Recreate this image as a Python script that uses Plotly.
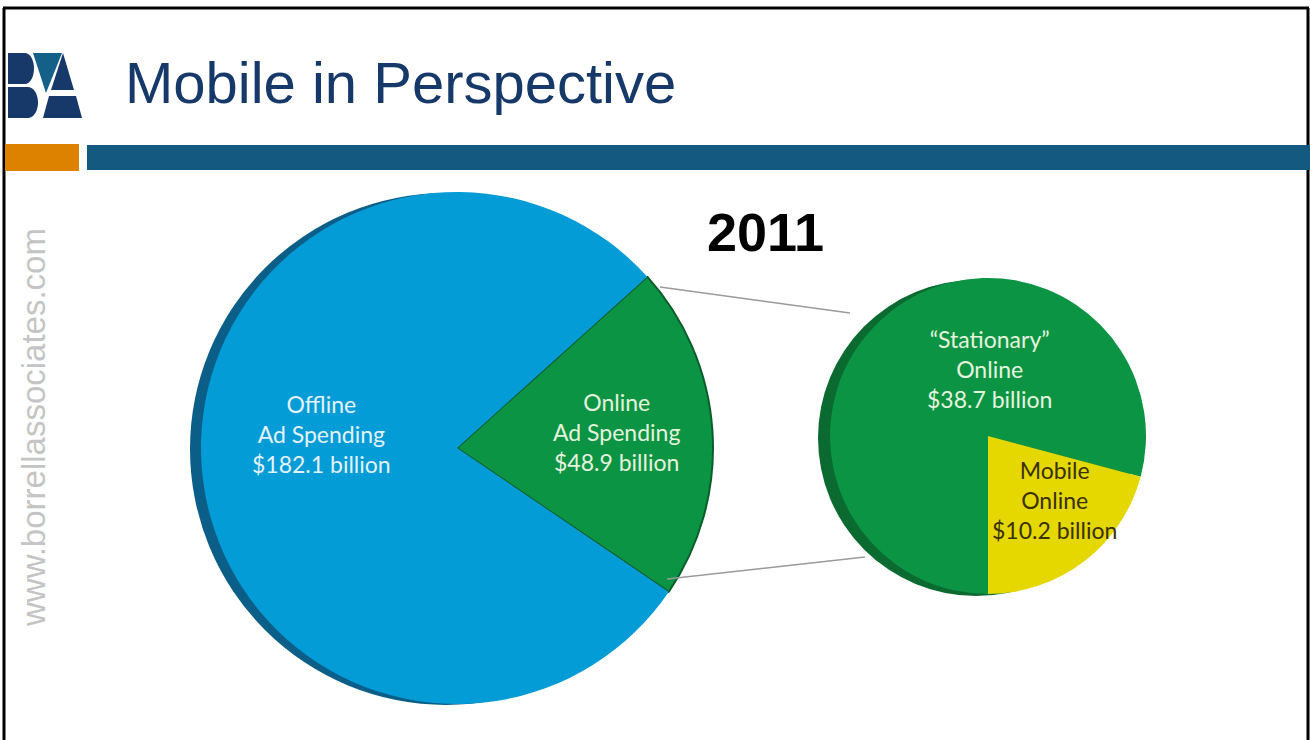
import math
import plotly.graph_objects as go

W, H = 1310, 740

# ---- data -------------------------------------------------------------
year = "2011"
total_names = ["Online", "Offline"]
total_values = [48.9, 182.1]          # $ billion, all ad spending
online_names = ["\u201cStationary\u201d", "Mobile"]
online_values = [38.7, 10.2]          # $ billion, online split

# ---- colours ----------------------------------------------------------
NAVY = "#17396a"
BLUE_FACE = "#049cd6"
BLUE_SIDE = "#0b5e88"
GREEN_FACE = "#0b9444"
GREEN_EDGE = "#0a5e2b"
GREEN_SIDE = "#0a6a2f"
YELLOW = "#e4d800"


def px_x(x):
    return x / W


def px_y(y):
    return 1 - y / H


def dom(cx, cy, r):
    return dict(x=[px_x(cx - r), px_x(cx + r)], y=[px_y(cy + r), px_y(cy - r)])


fig = go.Figure()

# depth edge behind the large pie
fig.add_trace(go.Pie(values=[1], marker=dict(colors=[BLUE_SIDE]), textinfo="none",
                     hoverinfo="skip", sort=False, showlegend=False,
                     domain=dom(446, 449, 256)))
# large pie: offline vs online
fig.add_trace(go.Pie(labels=total_names, values=total_values, sort=False,
                     direction="clockwise", rotation=48,
                     marker=dict(colors=[GREEN_FACE, BLUE_FACE],
                                 line=dict(color=[GREEN_EDGE, BLUE_FACE], width=[2, 0])),
                     textinfo="none", showlegend=False,
                     domain=dom(457, 448, 256)))

# depth edge behind the small pie
fig.add_trace(go.Pie(values=[1], marker=dict(colors=[GREEN_SIDE]), textinfo="none",
                     hoverinfo="skip", sort=False, showlegend=False,
                     domain=dom(976, 438, 158)))
# small pie: online split into stationary / mobile
fig.add_trace(go.Pie(labels=online_names, values=online_values, sort=False,
                     direction="clockwise", rotation=180,
                     marker=dict(colors=[GREEN_FACE, YELLOW],
                                 line=dict(color=[GREEN_FACE, YELLOW], width=0)),
                     textinfo="none", showlegend=False,
                     domain=dom(988, 436, 158)))

shapes = []
# frame
for x0, y0, x1, y1 in [(3, 8, 1309, 8), (4, 8, 4, 740), (1308, 8, 1308, 740)]:
    shapes.append(dict(type="line", xref="paper", yref="paper",
                       x0=px_x(x0), y0=px_y(y0), x1=px_x(x1), y1=px_y(y1),
                       line=dict(color="black", width=3)))
# header bars
shapes.append(dict(type="rect", xref="paper", yref="paper", line_width=0,
                   x0=px_x(5), x1=px_x(79), y0=px_y(171), y1=px_y(144),
                   fillcolor="#dc8100"))
shapes.append(dict(type="rect", xref="paper", yref="paper", line_width=0,
                   x0=px_x(87), x1=px_x(1310), y0=px_y(170), y1=px_y(145),
                   fillcolor="#145a80"))
# connector lines between the pies
for x0, y0, x1, y1 in [(660, 287, 850, 313), (667, 579, 865, 557)]:
    shapes.append(dict(type="line", xref="paper", yref="paper",
                       x0=px_x(x0), y0=px_y(y0), x1=px_x(x1), y1=px_y(y1),
                       line=dict(color="#9a9a9a", width=1.5)))


# logo built from small polygons in pixel space
def poly(points, color):
    d = "M " + " L ".join(f"{px_x(x):.5f},{px_y(y):.5f}" for x, y in points) + " Z"
    return dict(type="path", xref="paper", yref="paper", path=d,
                fillcolor=color, line_width=0)


def bowl(x0, y0, y1, xr, bulge):
    # flat-backed letter bowl: straight left side, elliptical right side
    pts = [(x0, y0)]
    mid = (y0 + y1) / 2
    ry = (y1 - y0) / 2
    xs = xr - bulge
    for k in range(0, 19):
        a = -math.pi / 2 + math.pi * k / 18
        pts.append((xs + bulge * math.cos(a), mid + ry * math.sin(a)))
    pts.append((x0, y1))
    return pts


shapes.append(poly(bowl(8, 53, 84, 34, 9), NAVY))
shapes.append(poly(bowl(8, 87, 118, 38, 10), NAVY))
shapes.append(poly([(33, 53), (62, 53), (46, 93)], "#146089"))
shapes.append(poly([(63, 53), (74, 90), (51, 90)], NAVY))
shapes.append(poly([(49, 96), (76, 96), (82, 118), (43, 118)], NAVY))

annotations = []


def note(text, x, y, size, color, family="Lato", bold=False, angle=0):
    if bold:
        text = f"<b>{text}</b>"
    annotations.append(dict(text=text, x=px_x(x), y=px_y(y), xref="paper", yref="paper",
                            showarrow=False, xanchor="center", yanchor="middle",
                            textangle=angle, align="center",
                            font=dict(size=size, color=color, family=family)))


annotations.append(dict(text="Mobile in Perspective", x=px_x(123), y=px_y(83),
                        xref="paper", yref="paper", showarrow=False,
                        xanchor="left", yanchor="middle",
                        font=dict(size=58, color=NAVY, family="Liberation Sans, Arial")))
note(year, 766, 232, 54, "black", family="Liberation Sans, Arial", bold=True)
note("www.borrellassociates.com", 33, 428, 33, "#c4c4c4",
     family="Liberation Sans, Arial", angle=-90)

note(f"{total_names[1]}<br>Ad Spending<br>${total_values[1]:.1f} billion",
     321, 434, 23, "#e2f2fa")
note(f"{total_names[0]}<br>Ad Spending<br>${total_values[0]:.1f} billion",
     616, 432, 23, "#e4f3dd")
note(f"{online_names[0]}<br>Online<br>${online_values[0]:.1f} billion",
     989, 369, 23, "#e6f4df")
note(f"{online_names[1]}<br>Online<br>${online_values[1]:.1f} billion",
     1054, 500, 23, "#3a3000")

fig.update_layout(width=W, height=H, margin=dict(l=0, r=0, t=0, b=0),
                  paper_bgcolor="white", plot_bgcolor="white",
                  shapes=shapes, annotations=annotations, showlegend=False)

fig.write_html("out.html")
